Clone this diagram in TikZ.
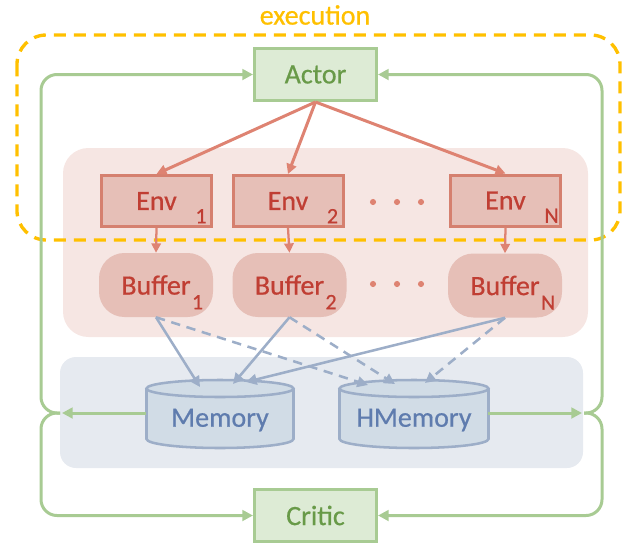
\documentclass[tikz,border=0pt]{standalone}
\usepackage{fontspec}
\setmainfont{Carlito}[FakeBold=0.6]
\usetikzlibrary{arrows.meta,calc}
\definecolor{execc}{HTML}{FFC000}
\definecolor{gline}{HTML}{A8CB93}
\definecolor{gfill}{HTML}{DDEBD5}
\definecolor{gtext}{HTML}{689A48}
\definecolor{pinkbg}{HTML}{F6E6E3}
\definecolor{efill}{HTML}{E6BFB7}
\definecolor{eline}{HTML}{D5806F}
\definecolor{etext}{HTML}{C03E33}
\definecolor{rarr}{HTML}{DE8372}
\definecolor{bluebg}{HTML}{E6EAF0}
\definecolor{cfill}{HTML}{D1DCE6}
\definecolor{cline}{HTML}{9DAEC8}
\definecolor{btext}{HTML}{5F7CAE}
\newcommand\subfnt{\fontsize{16.5pt}{16.5pt}\selectfont}
\newcommand\envsub[1]{\rlap{\hspace{14pt}\smash{\raisebox{-10pt}{\subfnt #1}}}}
\newcommand\bufsub[1]{\rlap{\hspace{1pt}\smash{\raisebox{-11pt}{\subfnt #1}}}}
\newcommand\cylbody[4]{% x1 x2 ytop ybot
  \pgfmathsetmacro\cxc{(#1+#2)/2}\pgfmathsetmacro\crx{(#2-#1)/2}
  \fill[cfill] (#1,#3) rectangle (#2,#4);
  \fill[cfill] (\cxc,#4) ellipse [x radius=\crx, y radius=9];
  \draw[cline, line width=1.9pt] (#1,#3) -- (#1,#4) arc[start angle=180, end angle=0, x radius=\crx, y radius=9] -- (#2,#3);
  \draw[cline, line width=1.9pt, fill=cfill] (\cxc,#3) ellipse [x radius=\crx, y radius=8.5];
}
\begin{document}
\begin{tikzpicture}[x=0.75pt,y=-0.75pt,
  font=\fontsize{21pt}{24pt}\selectfont,
  gbox/.style={draw=gline, line width=2.25pt, fill=gfill, text=gtext, minimum width=91.5pt, minimum height=39pt, inner sep=0pt},
  ebox/.style={draw=eline, line width=2.25pt, fill=efill, text=etext, minimum width=82.5pt, minimum height=38.25pt, inner sep=0pt},
  bbox/.style={fill=efill, text=etext, rounded corners=19pt, minimum width=85.5pt, minimum height=48pt, inner sep=0pt},
  memtext/.style={text=btext, minimum width=111pt, inner sep=0pt},
  gtip/.style={-{Triangle[length=8pt,width=8pt]}},
  glink/.style={draw=gline, line width=2.25pt},
  rlink/.style={draw=rarr, line width=2.25pt, -{Triangle[length=7.5pt,width=7.5pt]}},
  rlinkthin/.style={draw=rarr, line width=1.7pt, -{Triangle[length=7pt,width=7pt]}},
  blink/.style={draw=cline, line width=1.9pt, -{Triangle[length=8pt,width=8pt]}},
  bdash/.style={blink, dash pattern=on 7pt off 5pt},
  execline/.style={draw=execc, line width=2.5pt, dash pattern=on 9pt off 6pt}
]
\useasboundingbox (0,0) rectangle (632,547);
% backgrounds
\fill[pinkbg, rounded corners=19pt] (63,148) rectangle (588,337);
\fill[bluebg, rounded corners=12pt] (60,357) rectangle (583,468);
% execution region
\draw[execline, rounded corners=22pt] (17,35) rectangle (620,240);
\node[text=execc] (exec) at (315,15) {execution};
% cylinders
\cylbody{146.5}{293.5}{388.5}{439}
\cylbody{339.5}{488.5}{388.5}{439}
% nodes
\node[gbox] (actor) at (315.5,74.5) {Actor};
\node[gbox] (critic) at (315.5,515.5) {Critic};
\node[ebox] (e1) at (156.5,201) {Env\envsub{1}};
\node[ebox] (e2) at (288,201) {Env\envsub{2}};
\node[ebox] (eN) at (505.5,200.5) {Env\envsub{N}};
\node[bbox] (b1) at (156,285) {Buffer\bufsub{1}};
\node[bbox] (b2) at (289.5,285) {Buffer\bufsub{2}};
\node[bbox] (bN) at (505,285.5) {Buffer\bufsub{N}};
\node[memtext] (mem) at (220,420) {Memory};
\node[memtext] (hmem) at (414,420) {HMemory};
% dots
\foreach \x in {373,397,421}{
  \fill[rarr] (\x,202) circle (2.3pt);
  \fill[rarr] (\x,284) circle (2.3pt);
}
% actor to envs
\draw[rlink] (actor.south) -- (e1.north);
\draw[rlink] (actor.south) -- (e2.north);
\draw[rlink] (actor.south) -- (eN.north);
% env to buffers
\draw[rlinkthin] (e1.south) -- (b1.north);
\draw[rlinkthin] (e2.south) -- (b2.north);
\draw[rlinkthin] (eN.south) -- (bN.north);
% buffers to memories
\coordinate (m1) at (200,387);
\coordinate (m2) at (233,384);
\coordinate (m3) at (246,382);
\coordinate (h1) at (368,385);
\coordinate (h2) at (395,384);
\coordinate (h3) at (425,383);
\draw[blink] (b1.south) -- (m1);
\draw[blink] (b2.south) -- (m2);
\draw[blink] (bN.south) -- (m3);
\draw[bdash] (b1.south) -- (h1);
\draw[bdash] (b2.south) -- (h2);
\draw[bdash] (bN.south) -- (h3);
% green loops
\coordinate (jl) at (62,413);
\coordinate (jls) at (60,413);
\coordinate (lx) at (41,413);
\coordinate (jr) at (582,413);
\coordinate (jrs) at (584,413);
\coordinate (rx) at (602,413);
\draw[glink, gtip] (mem.west |- jl) -- (jl);
\draw[glink, gtip] (hmem.east |- jr) -- (jr);
\draw[glink, gtip, rounded corners=12pt] (jls) -- (lx) -- (lx |- actor.west) -- (actor.west);
\draw[glink, gtip, rounded corners=12pt] (jls) -- (lx) -- (lx |- critic.west) -- (critic.west);
\draw[glink, gtip, rounded corners=12pt] (jrs) -- (rx) -- (rx |- actor.east) -- (actor.east);
\draw[glink, gtip, rounded corners=12pt] (jrs) -- (rx) -- (rx |- critic.east) -- (critic.east);
\end{tikzpicture}
\end{document}
